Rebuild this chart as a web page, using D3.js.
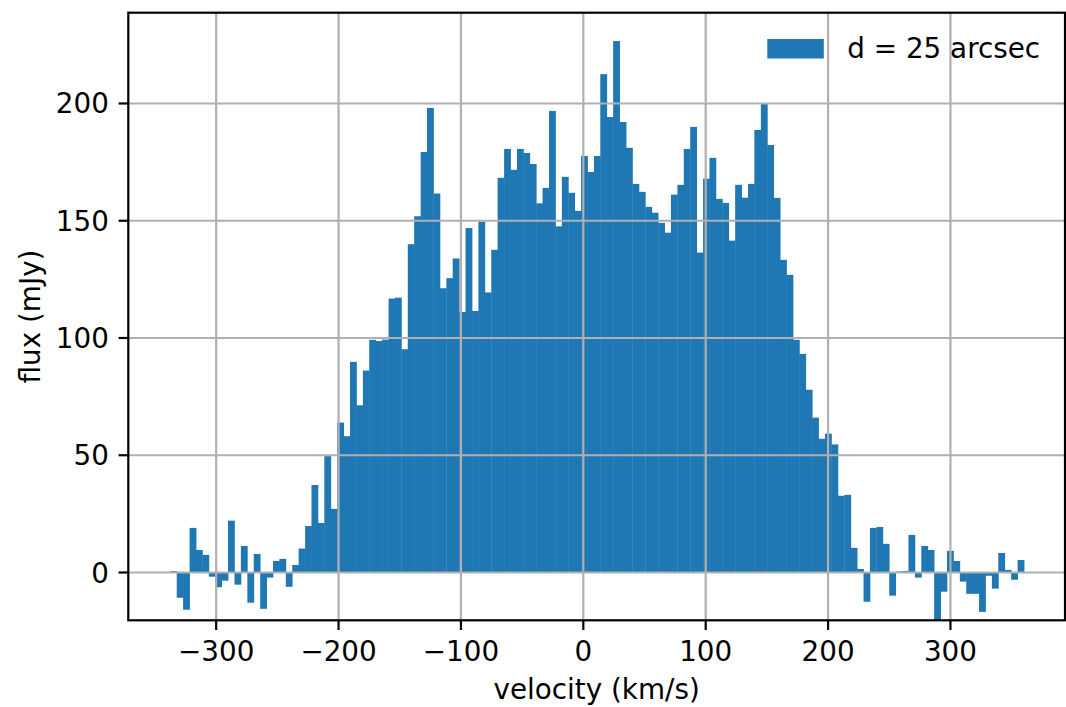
<!DOCTYPE html>
<html>
<head>
<meta charset="utf-8">
<script src="https://cdn.jsdelivr.net/npm/d3@7"></script>
<style>
  body { margin: 0; background: #fff; }
  text { font-family: "DejaVu Sans", sans-serif; fill: #000; }
</style>
</head>
<body>
<div id="chart"></div>
<script>
var svgWidth = 1066;
var svgHeight = 707;
var fontPx = 27.8;

// channel centres (km/s)
var velocity = [
  -334.5, -329.2, -324.0, -318.7, -313.5, -308.2, -303.0, -297.8, -292.5, -287.3,
  -282.0, -276.8, -271.5, -266.3, -261.0, -255.8, -250.5, -245.3, -240.1, -234.8,
  -229.6, -224.3, -219.1, -213.8, -208.6, -203.3, -198.1, -192.8, -187.6, -182.4,
  -177.1, -171.9, -166.6, -161.4, -156.1, -150.9, -145.6, -140.4, -135.2, -129.9,
  -124.7, -119.4, -114.2, -108.9, -103.7, -98.4, -93.2, -87.9, -82.7, -77.5,
  -72.2, -67.0, -61.7, -56.5, -51.2, -46.0, -40.7, -35.5, -30.3, -25.0,
  -19.8, -14.5, -9.3, -4.0, 1.2, 6.5, 11.7, 16.9, 22.2, 27.4,
  32.7, 37.9, 43.2, 48.4, 53.7, 58.9, 64.2, 69.4, 74.6, 79.9,
  85.1, 90.4, 95.6, 100.9, 106.1, 111.4, 116.6, 121.8, 127.1, 132.3,
  137.6, 142.8, 148.1, 153.3, 158.6, 163.8, 169.1, 174.3, 179.5, 184.8,
  190.0, 195.3, 200.5, 205.8, 211.0, 216.3, 221.5, 226.7, 232.0, 237.2,
  242.5, 247.7, 253.0, 258.2, 263.5, 268.7, 274.0, 279.2, 284.4, 289.7,
  294.9, 300.2, 305.4, 310.7, 315.9, 321.2, 326.4, 331.6, 336.9, 342.1,
  347.4, 352.6, 357.9
];
var chanWidth = 5.246;

// flux per channel (mJy)
var flux = [
  0.4, -11.0, -16.1, 18.8, 9.4, 7.3, -2.0, -6.5, -3.7, 21.9,
  -5.4, 11.1, -13.1, 7.7, -15.7, -2.4, 4.7, 5.6, -6.3, 3.0,
  10.0, 19.6, 37.1, 20.9, 49.4, 26.9, 63.7, 57.9, 89.6, 71.1,
  85.9, 99.0, 98.5, 99.1, 116.6, 117.0, 95.0, 139.8, 151.7, 179.1,
  197.9, 161.4, 121.0, 125.3, 133.7, 110.9, 146.7, 111.3, 149.4, 119.2,
  137.4, 168.1, 180.4, 171.5, 180.4, 178.7, 174.0, 157.2, 163.8, 196.6,
  147.4, 168.5, 161.7, 154.0, 177.4, 170.6, 177.4, 212.3, 194.0, 226.4,
  191.9, 180.9, 165.5, 162.1, 155.7, 153.2, 148.9, 144.7, 160.9, 165.1,
  180.4, 189.8, 136.2, 167.7, 176.6, 159.1, 157.4, 141.3, 165.1, 159.6,
  165.5, 188.5, 199.6, 182.1, 159.5, 133.1, 126.7, 99.0, 93.0, 77.7,
  65.8, 56.8, 59.0, 54.4, 32.5, 32.9, 10.3, 1.3, -12.7, 18.8,
  19.2, 12.0, -10.1, 0.2, 0.4, 15.8, -2.4, 11.1, 9.4, -24.0,
  -8.4, 9.0, 4.7, -4.1, -9.3, -9.3, -17.0, -1.6, -7.1, 8.1,
  0.9, -3.3, 5.1
];

var xTicks = [-300, -200, -100, 0, 100, 200, 300];
var yTicks = [0, 50, 100, 150, 200];
var legendLabel = "d = 25 arcsec";
var barColor = "#1f77b4";

var plot = {left: 128.3, right: 1065, top: 12.7, bottom: 620.3};

var x = d3.scaleLinear().domain([-371.4, 394.0]).range([plot.left, plot.right]);
var y = d3.scaleLinear().domain([-20.6, 238.5]).range([plot.bottom, plot.top]);

var data = velocity.map((v, i) => ({v: v, f: flux[i]}));

var svg = d3.select("#chart").append("svg")
    .attr("width", svgWidth)
    .attr("height", svgHeight);

svg.append("defs").append("clipPath").attr("id", "clip")
  .append("rect")
    .attr("x", plot.left).attr("y", plot.top)
    .attr("width", plot.right - plot.left)
    .attr("height", plot.bottom - plot.top);

var g = svg.append("g").attr("clip-path", "url(#clip)");

g.selectAll(".bar")
    .data(data)
  .enter().append("rect")
    .attr("class", "bar")
    .attr("fill", barColor)
    .attr("x", d => x(d.v - chanWidth / 2))
    .attr("width", d => x(d.v + chanWidth / 2) - x(d.v - chanWidth / 2) + 0.4)
    .attr("y", d => y(Math.max(0, d.f)))
    .attr("height", d => Math.abs(y(d.f) - y(0)));

// grid drawn over the bars, like the original
var grid = svg.append("g").attr("class", "grid");
grid.append("g")
    .attr("transform", "translate(0," + plot.bottom + ")")
    .call(d3.axisBottom(x).tickValues(xTicks).tickSize(-(plot.bottom - plot.top)).tickFormat(""))
    .call(s => s.select(".domain").remove());
grid.append("g")
    .attr("transform", "translate(" + plot.left + ",0)")
    .call(d3.axisLeft(y).tickValues(yTicks).tickSize(-(plot.right - plot.left)).tickFormat(""))
    .call(s => s.select(".domain").remove());
grid.selectAll("line").attr("stroke", "#b0b0b0").attr("stroke-width", 2.2);

// frame
svg.append("rect")
    .attr("x", plot.left).attr("y", plot.top)
    .attr("width", plot.right - plot.left)
    .attr("height", plot.bottom - plot.top)
    .attr("fill", "none")
    .attr("stroke", "#000")
    .attr("stroke-width", 2.2);

var fmt = d => d < 0 ? "\u2212" + Math.abs(d) : "" + d;

var xAxis = svg.append("g")
    .attr("transform", "translate(0," + plot.bottom + ")")
    .call(d3.axisBottom(x).tickValues(xTicks).tickSize(9.7).tickPadding(9.7).tickFormat(fmt));
var yAxis = svg.append("g")
    .attr("transform", "translate(" + plot.left + ",0)")
    .call(d3.axisLeft(y).tickValues(yTicks).tickSize(9.7).tickPadding(9.7).tickFormat(fmt));
[xAxis, yAxis].forEach(a => {
    a.select(".domain").remove();
    a.selectAll("line").attr("stroke", "#000").attr("stroke-width", 2.2);
    a.selectAll("text")
        .attr("fill", "#000")
        .style("font-family", "DejaVu Sans")
        .style("font-size", fontPx + "px");
});
xAxis.selectAll("text").attr("dy", "0.76em");
yAxis.selectAll("text").attr("dy", "0.36em");

svg.append("text")
    .attr("x", (plot.left + plot.right) / 2)
    .attr("y", 699)
    .attr("text-anchor", "middle")
    .style("font-size", fontPx + "px")
    .text("velocity (km/s)");

svg.append("text")
    .attr("transform", "translate(40," + ((plot.top + plot.bottom) / 2) + ") rotate(-90)")
    .attr("text-anchor", "middle")
    .style("font-size", fontPx + "px")
    .text("flux (mJy)");

// legend, no frame
var leg = svg.append("g").attr("class", "legend");
leg.append("rect")
    .attr("x", 767.3).attr("y", 39)
    .attr("width", 56.5).attr("height", 19.5)
    .attr("fill", barColor);
leg.append("text")
    .attr("x", 847.3).attr("y", 58.3)
    .style("font-size", fontPx + "px")
    .text(legendLabel);
</script>
</body>
</html>
